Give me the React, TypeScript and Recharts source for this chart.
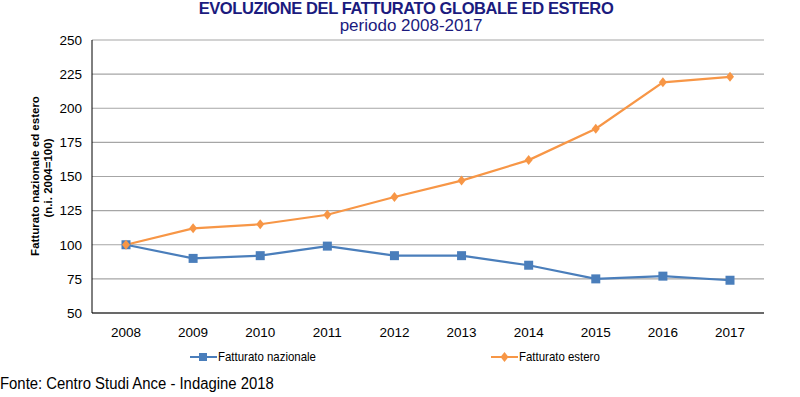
import React from 'react';
import {
  LineChart,
  Line,
  XAxis,
  YAxis,
  CartesianGrid,
} from 'recharts';

const years = ['2008', '2009', '2010', '2011', '2012', '2013', '2014', '2015', '2016', '2017'];
const nazionale = [100, 90, 92, 99, 92, 92, 85, 75, 77, 74];
const estero = [100, 112, 115, 122, 135, 147, 162, 185, 219, 223];
const yTicks = [50, 75, 100, 125, 150, 175, 200, 225, 250];

const data = years.map((y, i) => ({ year: y, nazionale: nazionale[i], estero: estero[i] }));

const BLUE = '#4A7EBB';
const ORANGE = '#F79646';
const NAVY = '#1B1B7E';
const FONT = 'Arial, "Liberation Sans", sans-serif';

const SquareDot = (props: any) => {
  const { cx, cy } = props;
  return <rect x={cx - 4.5} y={cy - 4.5} width={9} height={9} fill={BLUE} />;
};

const DiamondDot = (props: any) => {
  const { cx, cy } = props;
  return (
    <path
      d={`M${cx},${cy - 5} L${cx + 4},${cy} L${cx},${cy + 5} L${cx - 4},${cy} Z`}
      fill={ORANGE}
    />
  );
};

const LegendBox = () => (
  <div style={{ position: 'absolute', left: 0, top: 349, width: 800, height: 16, fontFamily: FONT, fontSize: 13 }}>
    <div style={{ position: 'absolute', left: 190, top: 0, display: 'flex', alignItems: 'center' }}>
      <svg width={28} height={12}>
        <line x1={0} y1={6} x2={27} y2={6} stroke={BLUE} strokeWidth={2} />
        <rect x={9} y={2} width={8} height={8} fill={BLUE} />
      </svg>
      <span style={{ transform: 'scaleX(0.88)', transformOrigin: 'left', whiteSpace: 'nowrap' }}>
        Fatturato nazionale
      </span>
    </div>
    <div style={{ position: 'absolute', left: 491, top: 0, display: 'flex', alignItems: 'center' }}>
      <svg width={28} height={12}>
        <line x1={0} y1={6} x2={27} y2={6} stroke={ORANGE} strokeWidth={2} />
        <path d="M13.5,1 L17.5,6 L13.5,11 L9.5,6 Z" fill={ORANGE} />
      </svg>
      <span style={{ transform: 'scaleX(0.88)', transformOrigin: 'left', whiteSpace: 'nowrap' }}>
        Fatturato estero
      </span>
    </div>
  </div>
);

const YLabel = () => (
  <g fontFamily={FONT} fontSize={11.5} fontWeight="bold" fill="#000">
    <text x={39} y={176} textAnchor="middle" transform="rotate(-90 39 176)">
      Fatturato nazionale ed estero
    </text>
    <text x={52} y={178} textAnchor="middle" transform="rotate(-90 52 178)">
      (n.i. 2004=100)
    </text>
  </g>
);

const App: React.FC = () => {
  return (
    <div
      style={{
        position: 'absolute',
        left: 0,
        top: 0,
        width: 800,
        height: 397,
        background: '#fff',
        fontFamily: FONT,
      }}
    >
      <div
        style={{
          position: 'absolute',
          top: 0,
          width: 812,
          textAlign: 'center',
          color: NAVY,
          fontWeight: 'bold',
          fontSize: 16.5,
          lineHeight: '16px',
          letterSpacing: -0.4,
        }}
      >
        EVOLUZIONE DEL FATTURATO GLOBALE ED ESTERO
      </div>
      <div
        style={{
          position: 'absolute',
          top: 17,
          width: 822,
          textAlign: 'center',
          color: NAVY,
          fontSize: 17,
          lineHeight: '17px',
        }}
      >
        periodo 2008-2017
      </div>
      <LineChart
        width={800}
        height={397}
        data={data}
        margin={{ top: 40, right: 36, bottom: 54, left: 52 }}
      >
        <CartesianGrid vertical={false} stroke="#A6A6A6" strokeWidth={1.2} />
        <XAxis
          dataKey="year"
          stroke="#000"
          tickLine={false}
          tickMargin={8}
          padding={{ left: 34, right: 34 }}
          tick={{ fill: '#000', fontSize: 13.5, fontFamily: FONT }}
        />
        <YAxis
          domain={[50, 250]}
          ticks={yTicks}
          width={40}
          stroke="#000"
          tickLine={false}
          tickMargin={4}
          tick={{ fill: '#000', fontSize: 13.5, fontFamily: FONT }}
          interval={0}
        />
        <Line
          type="linear"
          dataKey="nazionale"
          name="Fatturato nazionale"
          stroke={BLUE}
          strokeWidth={2.2}
          dot={<SquareDot />}
          isAnimationActive={false}
        />
        <Line
          type="linear"
          dataKey="estero"
          name="Fatturato estero"
          stroke={ORANGE}
          strokeWidth={2.2}
          dot={<DiamondDot />}
          isAnimationActive={false}
        />
        <YLabel />
      </LineChart>
      <LegendBox />
      <div
        style={{
          position: 'absolute',
          left: 0,
          top: 375,
          fontSize: 16,
          color: '#000',
          whiteSpace: 'nowrap',
          transform: 'scaleX(0.93)',
          transformOrigin: 'left',
        }}
      >
        Fonte: Centro Studi Ance - Indagine 2018
      </div>
    </div>
  );
};

export default App;
